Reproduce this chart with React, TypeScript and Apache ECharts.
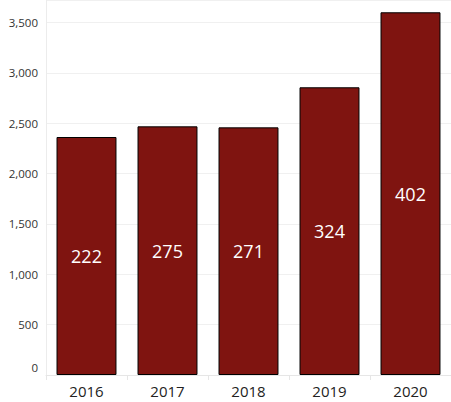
import React, { useEffect, useRef } from 'react';
import * as echarts from 'echarts';

const years = ['2016', '2017', '2018', '2019', '2020'];
const totals = [2364, 2470, 2460, 2858, 3603];
const counts = [222, 275, 271, 324, 402];

const FONT = '"Open Sans", "Noto Sans", sans-serif';

const App: React.FC = () => {
  const chartRef = useRef<HTMLDivElement>(null);

  useEffect(() => {
    document.body.style.margin = '0';
    if (!chartRef.current) return;
    const chart = echarts.init(chartRef.current, undefined, { renderer: 'svg' });

    chart.setOption({
      animation: false,
      backgroundColor: '#ffffff',
      grid: { left: 46, right: 0, top: 0, bottom: 27 },
      xAxis: {
        type: 'category',
        data: years,
        axisLine: { lineStyle: { color: '#e6e6e6', width: 1 } },
        axisTick: { show: true, length: 5, lineStyle: { color: '#e6e6e6' } },
        axisLabel: { color: '#222', fontSize: 15, fontFamily: FONT, margin: 8 },
      },
      yAxis: {
        type: 'value',
        min: 0,
        max: 3725,
        interval: 500,
        axisLine: { show: true, lineStyle: { color: '#ececec', width: 1 } },
        axisTick: { show: false },
        splitLine: { lineStyle: { color: '#f0f0f0', width: 1 } },
        axisLabel: {
          color: '#333',
          fontSize: 11.5,
          fontFamily: FONT,
          margin: 8,
          showMaxLabel: false,
          formatter: (v: number) => {
            if (v % 500 !== 0) return '';
            if (v === 0) return '{zero|0}';
            return v.toLocaleString('en-US');
          },
          rich: {
            zero: { color: '#333', fontSize: 11.5, fontFamily: FONT, padding: [0, 0, 16, 0] },
          },
        },
      },
      series: [
        {
          type: 'bar',
          data: totals,
          barWidth: '74%',
          itemStyle: { color: '#7f1410', borderColor: '#000', borderWidth: 1 },
          label: {
            show: true,
            position: 'inside',
            color: '#ffffff',
            fontSize: 18,
            fontFamily: FONT,
            formatter: (p: any) => String(counts[p.dataIndex]),
          },
        },
      ],
    });

    return () => {
      chart.dispose();
    };
  }, []);

  return <div ref={chartRef} style={{ width: '451px', height: '402px' }} />;
};

export default App;
